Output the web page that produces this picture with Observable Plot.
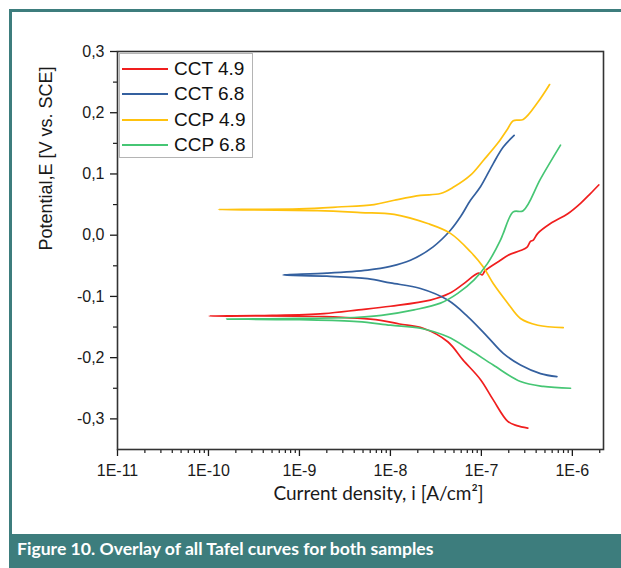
<!DOCTYPE html>
<html>
<head>
<meta charset="utf-8">
<script src="https://cdn.jsdelivr.net/npm/d3@7"></script>
<script src="https://cdn.jsdelivr.net/npm/@observablehq/plot@0.6"></script>
<style>
  body { margin:0; width:621px; height:568px; overflow:hidden; position:relative; background:#fff; }
  #frame { position:absolute; left:9px; top:9px; width:650px; height:528px; border:3px solid #3d7d7d; border-right:none; box-sizing:border-box; }
  #chart { position:absolute; left:0; top:0; }
  #legend { position:absolute; left:119px; top:53px; width:134px; height:105px; border:1px solid #b4b4b4; box-sizing:border-box; background:#fff; padding-top:2px; }
  .row { display:flex; align-items:center; height:25.5px; font-family:"Liberation Sans", Arial, sans-serif; font-size:19px; color:#111; }
  .sw { width:46px; height:2px; margin-left:2px; margin-right:6px; }
  #caption { position:absolute; left:9px; top:537px; width:620px; height:31px; background:#3d7d7d; color:#fff; font-family:Lato, "Open Sans", sans-serif; font-weight:bold; font-size:17.6px; line-height:1; padding:3px 0 0 8px; box-sizing:border-box; }
</style>
</head>
<body>
<div id="chart"></div>
<div id="frame"></div>
<div id="legend"></div>
<div id="caption">Figure 10. Overlay of all Tafel curves for both samples</div>
<script>
const seriesNames = ["CCT 4.9", "CCT 6.8", "CCP 4.9", "CCP 6.8"];
const seriesColors = ["#f01e1e", "#34609f", "#ffc20e", "#46c674"];

// current density (A/cm²) and potential (V vs. SCE), path: cathodic end -> Ecorr -> anodic end
const cct49_i = [3.24e-7,2.45e-7,1.95e-7,1.35e-7,9.8e-8,6.3e-8,4.27e-8,2.29e-8,1.26e-8,7.8e-9,1.86e-9,1.02e-10,
                 5.0e-10,1.86e-9,4.47e-9,1.0e-8,2.75e-8,4.47e-8,6.3e-8,9.3e-8,1.02e-7,1.1e-7,1.62e-7,1.95e-7,2.69e-7,3.16e-7,3.47e-7,3.72e-7,4.17e-7,5.75e-7,8.9e-7,1.23e-6,1.58e-6,1.95e-6];
const cct49_E = [-0.315,-0.311,-0.304,-0.269,-0.236,-0.204,-0.174,-0.152,-0.145,-0.139,-0.133,-0.132,
                 -0.131,-0.128,-0.122,-0.116,-0.106,-0.095,-0.080,-0.062,-0.065,-0.058,-0.041,-0.033,-0.025,-0.020,-0.010,-0.008,0.003,0.019,0.035,0.052,0.068,0.082];

const cct68_i = [6.76e-7,4.47e-7,2.69e-7,1.74e-7,1.17e-7,7.08e-8,4.27e-8,2.14e-8,1.0e-8,5.62e-9,2.0e-9,6.6e-10,
                 2.0e-9,5.62e-9,1.0e-8,1.66e-8,2.95e-8,4.57e-8,5.89e-8,7.59e-8,9.77e-8,1.35e-7,1.74e-7,2.29e-7];
const cct68_E = [-0.231,-0.226,-0.212,-0.193,-0.166,-0.133,-0.106,-0.087,-0.078,-0.071,-0.067,-0.065,
                 -0.062,-0.057,-0.051,-0.041,-0.019,0.008,0.030,0.057,0.079,0.117,0.144,0.163];

const ccp49_i = [7.94e-7,4.17e-7,2.69e-7,1.95e-7,1.35e-7,1.05e-7,7.59e-8,4.57e-8,2.57e-8,1.10e-8,4.68e-9,1.58e-9,1.29e-10,
                 1.0e-9,2.63e-9,6.61e-9,1.10e-8,2.14e-8,3.55e-8,5.01e-8,7.59e-8,1.05e-7,1.51e-7,1.95e-7,2.24e-7,2.88e-7,4.17e-7,5.62e-7];
const ccp49_E = [-0.151,-0.147,-0.136,-0.111,-0.079,-0.052,-0.027,0.003,0.019,0.034,0.037,0.040,0.042,
                 0.043,0.046,0.050,0.057,0.065,0.068,0.079,0.098,0.122,0.150,0.174,0.187,0.189,0.217,0.246];

const ccp68_i = [9.55e-7,4.79e-7,2.69e-7,1.35e-7,7.59e-8,4.27e-8,2.14e-8,1.0e-8,4.37e-9,1.0e-9,1.58e-10,
                 1.0e-9,4.37e-9,7.94e-9,1.82e-8,3.55e-8,5.5e-8,8.32e-8,1.17e-7,1.62e-7,1.74e-7,2.24e-7,2.88e-7,4.47e-7,7.41e-7];
const ccp68_E = [-0.250,-0.247,-0.239,-0.212,-0.188,-0.166,-0.152,-0.147,-0.141,-0.138,-0.137,
                 -0.136,-0.134,-0.131,-0.122,-0.111,-0.095,-0.073,-0.046,-0.008,0.003,0.038,0.040,0.092,0.147];

const xTicks = [1e-11, 1e-10, 1e-9, 1e-8, 1e-7, 1e-6];
const xTickLabels = ["1E-11", "1E-10", "1E-9", "1E-8", "1E-7", "1E-6"];
const yTicks = [-0.3, -0.2, -0.1, 0.0, 0.1, 0.2, 0.3];
const yTickLabels = ["-0,3", "-0,2", "-0,1", "0,0", "0,1", "0,2", "0,3"];
const yMinor = [-0.25, -0.15, -0.05, 0.05, 0.15, 0.25];
const xLabel = "Current density, i [A/cm²]";
const yLabel = "Potential,E [V vs. SCE]";

const xMinor = [];
for (const t of xTicks.slice(0, 5)) for (let m = 2; m <= 9; m++) xMinor.push(m * t);
xMinor.push(2e-6);

const seriesData = [[cct49_i, cct49_E], [cct68_i, cct68_E], [ccp49_i, ccp49_E], [ccp68_i, ccp68_E]];
const rows = seriesData.flatMap(([I, E], s) => I.map((v, k) => ({series: seriesNames[s], i: v, E: E[k]})));

const tickFont = "Liberation Sans, Arial, sans-serif";

const chart = Plot.plot({
  width: 621,
  height: 537,
  marginLeft: 117,
  marginRight: 18,
  marginTop: 51,
  marginBottom: 88,
  style: {background: "none", overflow: "visible", color: "#1a1a1a"},
  x: {type: "log", domain: [1e-11, 2.2e-6]},
  y: {domain: [-0.35, 0.3]},
  color: {domain: seriesNames, range: seriesColors},
  marks: [
    Plot.axisX({ticks: xMinor, tickSize: 4, tickFormat: () => "", label: null, strokeWidth: 1.2}),
    Plot.axisX({ticks: xTicks, tickSize: 7, tickPadding: 8, tickFormat: d => xTickLabels[xTicks.indexOf(d)], label: null, fontSize: 16, fontFamily: tickFont, strokeWidth: 1.3}),
    Plot.axisY({ticks: yMinor, tickSize: 4, tickFormat: () => "", label: null, strokeWidth: 1.2}),
    Plot.axisY({ticks: yTicks, tickSize: 7, tickPadding: 6, tickFormat: d => yTickLabels[yTicks.indexOf(d)], label: null, fontSize: 16, fontFamily: tickFont, strokeWidth: 1.3}),
    Plot.line(rows, {x: "i", y: "E", z: "series", stroke: "series", strokeWidth: 1.7, curve: "catmull-rom"}),
    Plot.frame({stroke: "#333", strokeWidth: 1.6}),
    Plot.text([yLabel], {text: d => d, frameAnchor: "left", dx: -71, rotate: -90, fontSize: 18, fontFamily: tickFont, fill: "#1a1a1a"}),
    Plot.text([xLabel], {text: d => d, frameAnchor: "bottom", dx: 18, dy: 50, fontSize: 19, fontFamily: "Lato, 'Open Sans', sans-serif", fill: "#1a1a1a"})
  ]
});
document.getElementById("chart").appendChild(chart);

const legend = document.getElementById("legend");
seriesNames.forEach((name, k) => {
  const row = document.createElement("div");
  row.className = "row";
  const sw = document.createElement("span");
  sw.className = "sw";
  sw.style.background = seriesColors[k];
  const label = document.createElement("span");
  label.textContent = name;
  row.appendChild(sw);
  row.appendChild(label);
  legend.appendChild(row);
});
</script>
</body>
</html>
